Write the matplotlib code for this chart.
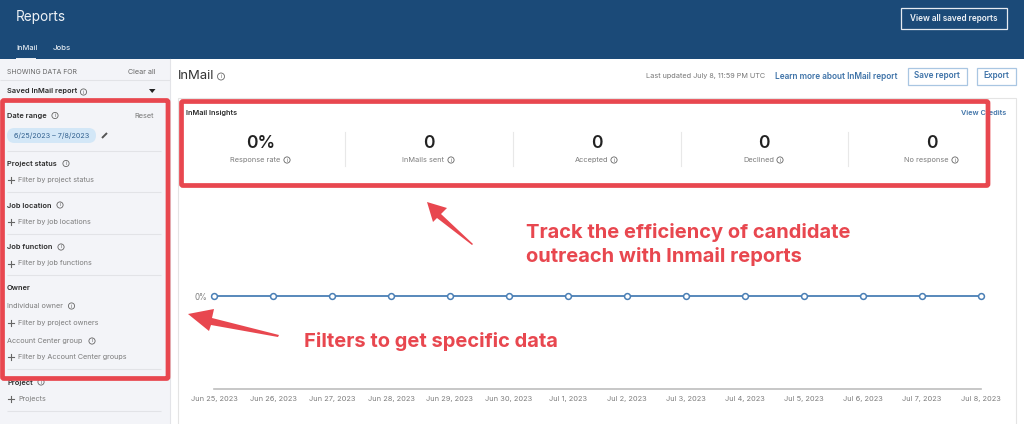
import matplotlib
matplotlib.use("Agg")
from matplotlib import pyplot as plt
from matplotlib.patches import Rectangle, FancyBboxPatch, Circle, Polygon

plt.rcParams['font.family'] = ['Inter', 'DejaVu Sans']

dates = ["Jun 25, 2023", "Jun 26, 2023", "Jun 27, 2023", "Jun 28, 2023", "Jun 29, 2023",
         "Jun 30, 2023", "Jul 1, 2023", "Jul 2, 2023", "Jul 3, 2023", "Jul 4, 2023",
         "Jul 5, 2023", "Jul 6, 2023", "Jul 7, 2023", "Jul 8, 2023"]
response_rate = [0, 0, 0, 0, 0, 0, 0, 0, 0, 0, 0, 0, 0, 0]

kpi_values = ["0%", "0", "0", "0", "0"]
kpi_labels = ["Response rate", "InMails sent", "Accepted", "Declined", "No response"]

W, H = 1024, 424
NAVY = '#1b4a78'
SIDE = '#f3f4f8'
RED = '#e8474f'
BLUE = '#4a7fb5'
GREY = '#7c7c7c'
DARK = '#2a2a2a'

fig = plt.figure(figsize=(W / 100, H / 100), dpi=100)
fig.patch.set_facecolor('white')

# page layer in pixel coordinates, y going down like the screenshot
bg = fig.add_axes([0, 0, 1, 1], zorder=0)
bg.set_xlim(0, W)
bg.set_ylim(H, 0)
bg.axis('off')

# overlay for the red annotations, sits over the chart
top = fig.add_axes([0, 0, 1, 1], zorder=5)
top.set_xlim(0, W)
top.set_ylim(H, 0)
top.axis('off')
top.patch.set_alpha(0)


def px(size):
    return size * 0.72


def label(x, y, s, size=8, color=GREY, weight='normal', ha='left', target=None):
    (target or bg).text(x, y, s, fontsize=px(size), color=color, fontweight=weight,
                        ha=ha, va='center')


def info(x, y, r=3.1, color='#666666'):
    bg.add_patch(Circle((x, y), r, fill=False, ec=color, lw=0.6))
    bg.text(x, y, "i", fontsize=px(5.5), color=color, ha='center', va='center')


def hline(x0, x1, y, color='#e2e3e7', lw=0.8):
    bg.plot([x0, x1], [y, y], color=color, lw=lw, solid_capstyle='butt')


def button(x0, y0, x1, y1, s, ec, color, size=8.5):
    bg.add_patch(Rectangle((x0, y0), x1 - x0, y1 - y0, fc='none', ec=ec, lw=0.9))
    bg.text((x0 + x1) / 2, (y0 + y1) / 2, s, fontsize=px(size), color=color,
            fontweight='semibold', ha='center', va='center')


def plus(x, y):
    bg.plot([x - 3, x + 3], [y, y], color='#666666', lw=0.8)
    bg.plot([x, x], [y - 3, y + 3], color='#666666', lw=0.8)


# header
bg.add_patch(Rectangle((0, 0), W, 59, fc=NAVY, ec='none'))
label(16, 16.5, "Reports", size=13.6, color='#eef2f6')
label(16, 47.5, "InMail", size=7.5, color='#dfe7ef', weight='medium')
label(53, 47.5, "Jobs", size=7.8, color='#dfe7ef', weight='medium')
bg.add_patch(Rectangle((16, 57.5), 20, 1.6, fc='#e8edf3', ec='none'))
button(900.5, 8, 1006.5, 29, "View all saved reports", '#e6ebf1', '#f0f3f7', size=8.2)

# sidebar
bg.add_patch(Rectangle((0, 59), 170, H - 59, fc=SIDE, ec='none'))
bg.plot([170, 170], [59, H], color='#e3e4e8', lw=0.8)
label(7, 71.5, "SHOWING DATA FOR", size=6.9, color='#666666')
label(156, 71.5, "Clear all", size=7.2, color='#666666', ha='right')
hline(0, 170, 80)
label(7, 91.5, "Saved InMail report", size=7.4, color=DARK, weight='semibold')
info(83.5, 92)
bg.add_patch(Polygon([(149, 89), (155.5, 89), (152.2, 93)], fc='#222222', ec='none'))

label(7, 116, "Date range", size=7.4, color=DARK, weight='semibold')
info(55, 115.5)
label(154, 116, "Reset", size=7.4, color='#777777', ha='right')
bg.add_patch(FancyBboxPatch((7, 128), 89, 15, boxstyle="round,pad=0,rounding_size=7.5",
                            fc='#d3e7f7', ec='none'))
label(51.5, 135.5, "6/25/2023 – 7/8/2023", size=7.2, color='#32618f', ha='center')
bg.plot([102, 107], [138, 133], color='#555555', lw=1.4, solid_capstyle='butt')
hline(7, 161, 150.5)

label(7, 164, "Project status", size=7.4, color=DARK, weight='semibold')
info(66, 163.5)
plus(11, 180)
label(18, 180, "Filter by project status", size=7.2)
hline(7, 161, 192)

label(7, 205.5, "Job location", size=7.4, color=DARK, weight='semibold')
info(60, 205)
plus(11, 222)
label(18, 222, "Filter by job locations", size=7.2)
hline(7, 161, 233.5)

label(7, 247, "Job function", size=7.4, color=DARK, weight='semibold')
info(61, 247)
plus(11, 263.5)
label(18, 263.5, "Filter by job functions", size=7.2)
hline(7, 161, 275)

label(7, 287.5, "Owner", size=7.4, color=DARK, weight='semibold')
label(7, 306, "Individual owner", size=7.2)
info(71.5, 306)
plus(11, 322.5)
label(18, 322.5, "Filter by project owners", size=7.2)
label(7, 341, "Account Center group", size=7.2)
info(92, 341)
plus(11, 357)
label(18, 357, "Filter by Account Center groups", size=7.2)
hline(7, 161, 369)

label(7, 382.5, "Project", size=7.4, color=DARK, weight='semibold')
info(41, 382)
plus(11, 399)
label(18, 399, "Projects", size=7.2)
hline(7, 161, 410.5)

# main title row
label(178, 76, "InMail", size=13, color='#333333')
info(221, 76.5, r=3.5)
label(646, 76, "Last updated July 8, 11:59 PM UTC", size=7.3, color='#777777')
label(775, 76.5, "Learn more about InMail report", size=8.3, color='#3f73a8', weight='semibold')
button(907.5, 67.5, 967, 84.5, "Save report", '#a9c6e2', '#3f73a8', size=8.2)
button(976.5, 67.5, 1015.5, 84.5, "Export", '#a9c6e2', '#3f73a8', size=8.2)

# card
bg.add_patch(Rectangle((177.5, 98), 838, H, fc='white', ec='#e4e4e4', lw=0.8))
label(186.5, 112.5, "InMail Insights", size=7.3, color=DARK, weight='semibold')
label(1006.5, 113, "View Credits", size=7.3, color='#3f73a8', weight='semibold', ha='right')

kpi_x = [261, 429, 597, 764, 932]
kpi_info_dx = [26, 22, 17, 16, 23]
for i in range(5):
    bg.text(kpi_x[i], 143, kpi_values[i], fontsize=px(17.5), color='#222222',
            fontweight='semibold', ha='center', va='center')
    bg.text(kpi_x[i] - 5.5, 160, kpi_labels[i], fontsize=px(7.4), color=GREY,
            ha='center', va='center')
    info(kpi_x[i] + kpi_info_dx[i], 160)
    if i < 4:
        sep = (kpi_x[i] + kpi_x[i + 1]) / 2
        bg.plot([sep, sep], [132, 166], color='#e8e8e8', lw=0.8)

# line chart with its own axes, baseline at y=389 and zero at y=296
ax = fig.add_axes([214 / W, 1 - 389 / H, (981 - 214) / W, (389 - 203) / H], zorder=2)
ax.patch.set_alpha(0)
ax.plot(range(len(dates)), response_rate, color=BLUE, lw=1.3, marker='o', ms=4.2,
        mfc='white', mec=BLUE, mew=1.1, clip_on=False)
ax.set_xlim(0, len(dates) - 1)
ax.set_ylim(-1, 1)
ax.set_yticks([0])
ax.set_yticklabels(["0%"], fontsize=px(8), color=GREY)
ax.set_xticks(range(len(dates)))
ax.set_xticklabels(dates, fontsize=px(7.4), color=GREY)
ax.tick_params(axis='y', length=0, pad=5)
ax.tick_params(axis='x', length=0, pad=5)
for side in ['top', 'left', 'right']:
    ax.spines[side].set_visible(False)
ax.spines['bottom'].set_color('#bdbdbd')
ax.spines['bottom'].set_linewidth(1.2)

# red annotation boxes
top.add_patch(FancyBboxPatch((2.5, 100.5), 165.5, 278, boxstyle="round,pad=0,rounding_size=1.5",
                             fc='none', ec=RED, lw=3.4))
top.add_patch(FancyBboxPatch((181.5, 101.5), 806.5, 84, boxstyle="round,pad=0,rounding_size=1.5",
                             fc='none', ec=RED, lw=3.4))

# arrows
top.add_patch(Polygon([(427, 202), (447, 208), (441, 214), (473, 244), (472, 245), (437, 218), (433, 222)],
                      fc=RED, ec='none'))
top.add_patch(Polygon([(188, 314), (214, 309), (212, 318), (279, 335), (278, 337), (211, 325), (209, 331)],
                      fc=RED, ec='none'))

label(526, 232, "Track the efficiency of candidate", size=20.1, color=RED, weight='bold', target=top)
label(526, 257, "outreach with Inmail reports", size=20.1, color=RED, weight='bold', target=top)
label(304, 341.5, "Filters to get specific data", size=20.1, color=RED, weight='bold', target=top)

fig.savefig("out.png", dpi=100)
